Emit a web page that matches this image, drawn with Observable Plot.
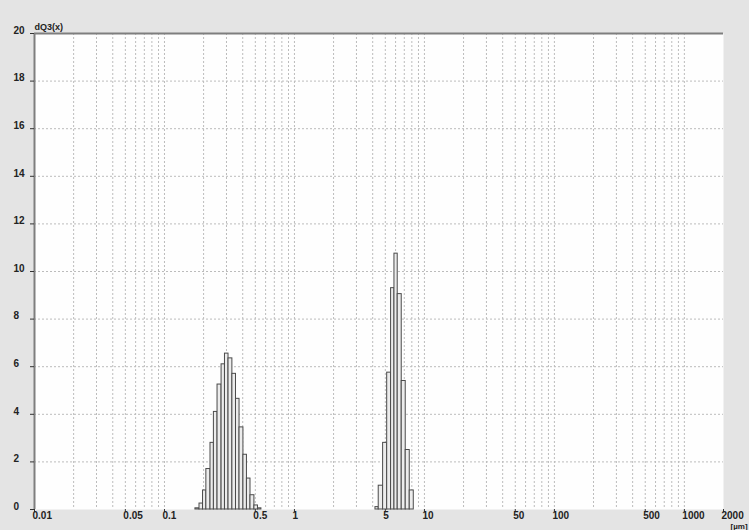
<!DOCTYPE html>
<html><head><meta charset="utf-8">
<script src="https://cdn.jsdelivr.net/npm/d3@7"></script>
<script src="https://cdn.jsdelivr.net/npm/@observablehq/plot@0.6"></script>
<style>
html,body{margin:0;padding:0;background:#e4e4e4;overflow:hidden;}
svg{display:block;}
</style>
</head><body><div id="chart"></div>
<script>
// Class edges (µm) and dQ3 values
const peak1Edges = [0.173, 0.186, 0.198, 0.210, 0.226, 0.240, 0.256, 0.275, 0.292, 0.311, 0.333, 0.355, 0.378, 0.405, 0.431, 0.459, 0.492, 0.524, 0.557];
const peak1Values = [0.05, 0.25, 0.8, 1.7, 2.8, 4.1, 5.25, 6.1, 6.55, 6.35, 5.7, 4.65, 3.45, 2.3, 1.3, 0.6, 0.17, 0.05];
const peak2Edges = [4.20, 4.45, 4.81, 5.17, 5.54, 5.88, 6.23, 6.69, 7.18, 7.71, 8.28];
const peak2Values = [0.1, 1.0, 2.8, 5.75, 9.3, 10.75, 9.05, 5.4, 2.5, 0.8];

const xTicks = [0.01, 0.05, 0.1, 0.5, 1, 5, 10, 50, 100, 500, 1000, 2000];
const xTickLabels = ["0.01", "0.05", "0.1", "0.5", "1", "5", "10", "50", "100", "500", "1000", "2000"];
const yTicks = [0, 2, 4, 6, 8, 10, 12, 14, 16, 18, 20];
const yTickLabels = ["0", "2", "4", "6", "8", "10", "12", "14", "16", "18", "20"];
const gridDecades = [0.01, 0.1, 1, 10, 100];
const gridMultipliers = [1, 2, 3, 4, 5, 6, 7, 8, 9];
const yGrid = [2, 4, 6, 8, 10, 12, 14, 16, 18];

const xGrid = gridDecades.flatMap(d => gridMultipliers.map(m => +(d * m).toPrecision(3))).filter(v => v > 0.01).concat([1000]);

const bins = [];
[[peak1Edges, peak1Values], [peak2Edges, peak2Values]].forEach(([e, v]) => {
  v.forEach((val, i) => bins.push({x1: e[i], x2: e[i + 1], y: val}));
});

const font = "'Liberation Sans', Arial, sans-serif";

const chart = Plot.plot({
  width: 749,
  height: 530,
  marginLeft: 34,
  marginRight: 26,
  marginTop: 33,
  marginBottom: 21,
  style: {background: "#e4e4e4", fontFamily: font, fontSize: "10px", fontWeight: "bold", color: "#222"},
  x: {type: "log", domain: [0.01, 2000], axis: null},
  y: {domain: [0, 20], axis: null},
  marks: [
    Plot.frame({fill: "#fefefe", stroke: "none"}),
    Plot.ruleX(xGrid, {x: d => d, stroke: "#bcbcbc", strokeDasharray: "2,2", strokeWidth: 1}),
    Plot.ruleY(yGrid, {y: d => d, stroke: "#bcbcbc", strokeDasharray: "2,2", strokeWidth: 1}),
    Plot.rectY(bins, {x1: "x1", x2: "x2", y: "y", fill: "#ececec", stroke: "#4a4a4a", strokeWidth: 1}),
    Plot.ruleY([20], {y: d => d, stroke: "#7e7e7e", strokeWidth: 2}),
    Plot.ruleX([0.01], {x: d => d, stroke: "#7e7e7e", strokeWidth: 2}),
    Plot.axisY({ticks: yTicks, tickSize: 4, tickFormat: () => "", label: null, stroke: "#333"}),
    Plot.axisX({ticks: xTicks, tickSize: 3, tickFormat: () => "", label: null, stroke: "#333"}),
    Plot.text(yTicks, {y: d => d, text: (d, i) => yTickLabels[i], frameAnchor: "left", dx: -21, dy: -3, textAnchor: "start", fill: "#222", fontSize: 10, fontWeight: "bold"}),
    Plot.text(xTicks, {x: d => d, text: (d, i) => xTickLabels[i], frameAnchor: "bottom", dx: -2, dy: 9, textAnchor: "start", fill: "#222", fontSize: 10, fontWeight: "bold"}),
    Plot.text(["dQ3(x)"], {frameAnchor: "top-left", dx: 0, dy: -10, textAnchor: "start", fill: "#222", fontSize: 9, fontWeight: "bold"}),
    Plot.text(["[µm]"], {frameAnchor: "bottom-right", dx: 7, dy: 19, textAnchor: "start", fill: "#222", fontSize: 8, fontWeight: "bold"})
  ]
});
document.getElementById("chart").appendChild(chart);
</script>
</body></html>
